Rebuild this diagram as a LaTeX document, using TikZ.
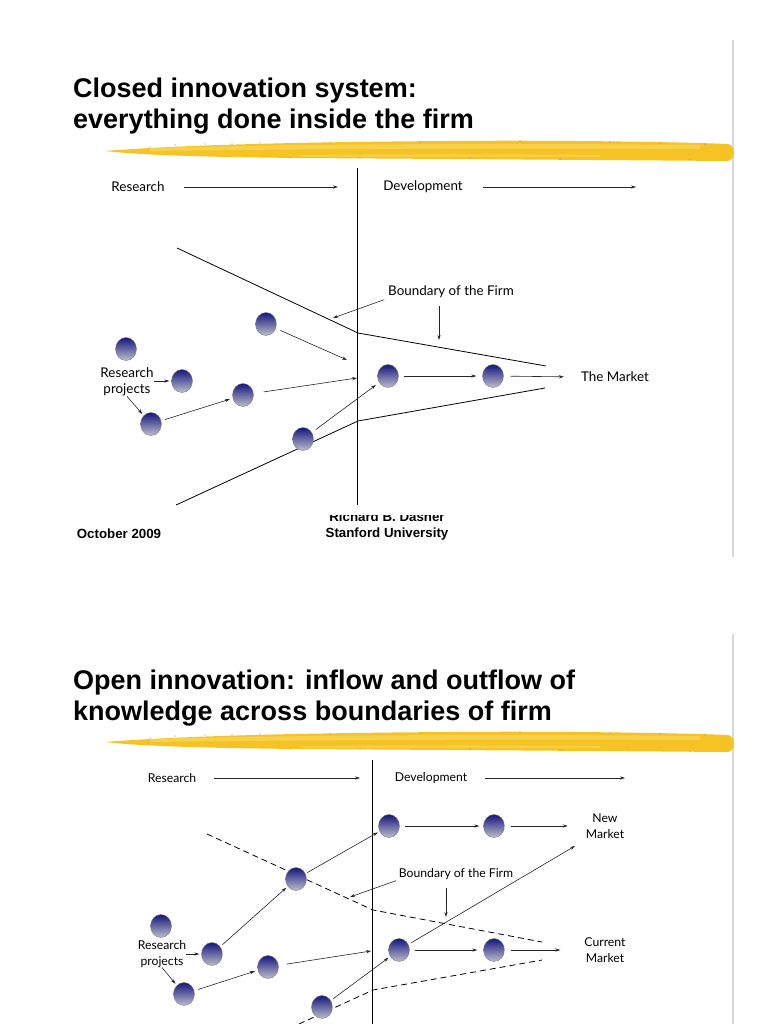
\documentclass[tikz,border=0pt]{standalone}
\usepackage{fontspec}
\setmainfont{Liberation Sans}
\newfontfamily\lblfont{Lato}
\usetikzlibrary{arrows.meta,shapes.geometric}
\definecolor{navy}{HTML}{16167E}
\definecolor{ballbot}{HTML}{BDBDCB}
\definecolor{hlyellow}{HTML}{F5C424}
\definecolor{hllight}{HTML}{F9D868}
\definecolor{rulegray}{HTML}{D9D9D9}
\newcommand\hlstroke{%
 \fill[hlyellow] (105,151) .. controls (180,145) and (300,142) .. (450,141) .. controls (560,140) and (680,142) .. (728,144) .. controls (736,146) and (736,159) .. (728,161) .. controls (600,160) and (450,159) .. (300,158) .. controls (200,157) and (140,155) .. (105,151) -- cycle;
 \fill[hllight,opacity=0.6] (150,148) .. controls (300,144) and (500,143) .. (700,145) -- (700,149) .. controls (500,148) and (300,149) .. (150,151) -- cycle;
 \fill[hllight,opacity=0.5] (300,155) .. controls (400,154) and (500,154) .. (600,155) -- (600,157) .. controls (500,157) and (400,157) .. (300,157) -- cycle;
 \foreach \sx/\sy in {150/147,175/145,205/144,232/144,260/143,290/158,330/143,360/158,420/142,470/158,520/141,560/159,610/142,660/143,690/160,705/144}
   {\fill[black!45] (\sx,\sy) circle (0.6);}
}
\begin{document}
\begin{tikzpicture}[x=1pt,y=-1pt,
  ball/.style={ellipse,minimum width=21pt,minimum height=23pt,inner sep=0pt,top color=navy,bottom color=ballbot,draw=black!50,line width=0.4pt},
  arr/.style={-{Stealth[length=5pt,width=3.2pt]},line width=0.6pt,black!85},
  bline/.style={line width=0.8pt,black},
  dline/.style={line width=0.8pt,black,dash pattern=on 6pt off 4pt},
  lbl/.style={font=\lblfont\fontsize{13.4}{16}\selectfont,align=center,inner sep=0pt},
  lblb/.style={font=\lblfont\fontsize{12.2}{15.5}\selectfont,align=center,inner sep=0pt},
  ttl/.style={font=\bfseries\fontsize{27}{31}\selectfont,anchor=base west,inner sep=0pt,align=left},
  foot/.style={font=\bfseries\fontsize{13.3}{16}\selectfont,inner sep=0pt,align=center},
]
\useasboundingbox[fill=white] (0,0) rectangle (768,1024);

% ================= TOP SLIDE =================
\draw[rulegray,line width=1.5pt] (733,40) -- (733,557);
\node[ttl] (tt1) at (73,98) {Closed innovation system:};
\node[ttl] (tt2) at (73,129) {everything done inside the firm};
\hlstroke

\coordinate (vt1) at (357,168);
\coordinate (vt2) at (357,505);
\draw[bline] (vt1) -- (vt2);

\node[lbl] (res1) at (138,187) {Research};
\coordinate (res1e) at (338,187);
\draw[arr,shorten <=19pt] (res1.east) -- (res1e);
\node[lbl] (dev1) at (423,187) {Development};
\coordinate (dev1e) at (636,187);
\draw[arr,shorten <=20pt] (dev1.east) -- (dev1e);

\coordinate (ub1) at (177,248);
\coordinate (ub2) at (358,333);
\coordinate (ub3) at (546,366);
\draw[bline] (ub1) -- (ub2) -- (ub3);
\coordinate (lb1) at (176,505);
\coordinate (lb2) at (358,421);
\coordinate (lb3) at (545,388);
\draw[bline] (lb1) -- (lb2) -- (lb3);

\node[lbl] (bf1) at (451,292) {Boundary of the Firm};
\coordinate (bf1a) at (333,318);
\draw[arr,shorten <=4pt] (bf1.south west) -- (bf1a);
\coordinate (bf1d) at (439,340);
\draw[arr,shorten <=8pt] (bf1.south -| bf1d) -- (bf1d);

\node[ball] (t1) at (126,349) {};
\node[ball] (t2) at (182,381) {};
\node[ball] (t3) at (151,424) {};
\node[ball] (t4) at (266,324) {};
\node[ball] (t5) at (243,395) {};
\node[ball] (t6) at (303,439) {};
\node[ball] (t7) at (388,376) {};
\node[ball] (t8) at (493,376) {};

\node[lbl] (rp1) at (127,382) {Research\\projects};
\draw[arr,shorten >=2pt] (rp1.east |- t2) -- (t2);
\draw[arr,shorten >=2pt] (rp1.south) -- (t3);
\draw[arr,shorten <=4pt,shorten >=3pt] (t3) -- (t5);
\coordinate (c1) at (357,378);
\draw[arr,shorten <=10pt] (t5) -- (c1);
\coordinate (c2) at (347,360);
\draw[arr,shorten <=5pt] (t4) -- (c2);
\draw[arr,shorten <=5pt,shorten >=4pt] (t6) -- (t7);
\draw[arr,shorten <=5pt,shorten >=6pt] (t7) -- (t8);
\node[lbl] (mk1) at (615,377) {The Market};
\draw[arr,shorten <=7pt,shorten >=17pt] (t8) -- (mk1.west);

\node[foot] (date1) at (119,534) {October 2009};
\begin{scope}
\clip (300,515) rectangle (480,545);
\node[foot] (auth1) at (387,526) {Richard B. Dasher\\Stanford University};
\end{scope}

% ================= BOTTOM SLIDE =================
\draw[rulegray,line width=1.5pt] (733,634) -- (733,1024);
\node[ttl] (tb1) at (73,689) {Open innovation: inflow and outflow of};
\node[ttl] (tb2) at (73,720) {knowledge across boundaries of firm};
\begin{scope}[shift={(0,591)}]
\hlstroke
\end{scope}

\coordinate (vb1) at (372,760);
\coordinate (vb2) at (372,1024);
\draw[bline] (vb1) -- (vb2);

\node[lblb] (res2) at (172,778) {Research};
\coordinate (res2e) at (360,778);
\draw[arr,shorten <=18pt] (res2.east) -- (res2e);
\node[lblb] (dev2) at (431,778) {Development};
\coordinate (dev2e) at (625,778);
\draw[arr,shorten <=18pt] (dev2.east) -- (dev2e);

\coordinate (ud1) at (207,834);
\coordinate (ud2) at (373,910);
\coordinate (ud3) at (542,942);
\draw[dline] (ud1) -- (ud2) -- (ud3);
\coordinate (ld1) at (299,1024);
\coordinate (ld2) at (373,990);
\coordinate (ld3) at (542,960);
\draw[dline] (ld1) -- (ld2) -- (ld3);

\node[lblb] (bf2) at (456,874) {Boundary of the Firm};
\coordinate (bf2a) at (350,897);
\draw[arr,shorten <=3pt] (bf2.south west) -- (bf2a);
\coordinate (bf2d) at (446,917);
\draw[arr,shorten <=8pt] (bf2.south -| bf2d) -- (bf2d);

\node[ball] (u1) at (389,826) {};
\node[ball] (u2) at (494,826) {};
\node[ball] (u3) at (296,879) {};
\node[ball] (u4) at (161,926) {};
\node[ball] (u5) at (212,954) {};
\node[ball] (u6) at (268,967) {};
\node[ball] (u7) at (184,994) {};
\node[ball] (u8) at (399,950) {};
\node[ball] (u9) at (494,950) {};
\node[ball] (u10) at (322,1007) {};

\node[lblb] (nm) at (605,826) {New\\Market};
\node[lblb] (cm) at (605,950) {Current\\Market};
\node[lblb] (rp2) at (162,954) {Research\\projects};

\draw[arr,shorten <=5pt,shorten >=4pt] (u1) -- (u2);
\draw[arr,shorten <=6pt,shorten >=18pt] (u2) -- (nm.west);
\draw[arr,shorten <=2pt,shorten >=2pt] (u3) -- (u1);
\draw[arr,shorten <=3pt,shorten >=2pt] (u5) -- (u3);
\draw[arr,shorten >=2pt] (rp2.east |- u5) -- (u5);
\draw[arr,shorten >=2pt] (rp2.south) -- (u7);
\draw[arr,shorten <=4pt,shorten >=3pt] (u7) -- (u6);
\coordinate (c3) at (371,951);
\draw[arr,shorten <=8pt] (u6) -- (c3);
\draw[arr,shorten <=3pt,shorten >=2pt] (u10) -- (u8);
\coordinate (nmL) at (575,846);
\draw[arr,shorten <=3pt] (u8) -- (nmL);
\draw[arr,shorten <=5pt,shorten >=6pt] (u8) -- (u9);
\draw[arr,shorten <=6pt,shorten >=24pt] (u9) -- (cm.west);
\end{tikzpicture}
\end{document}
